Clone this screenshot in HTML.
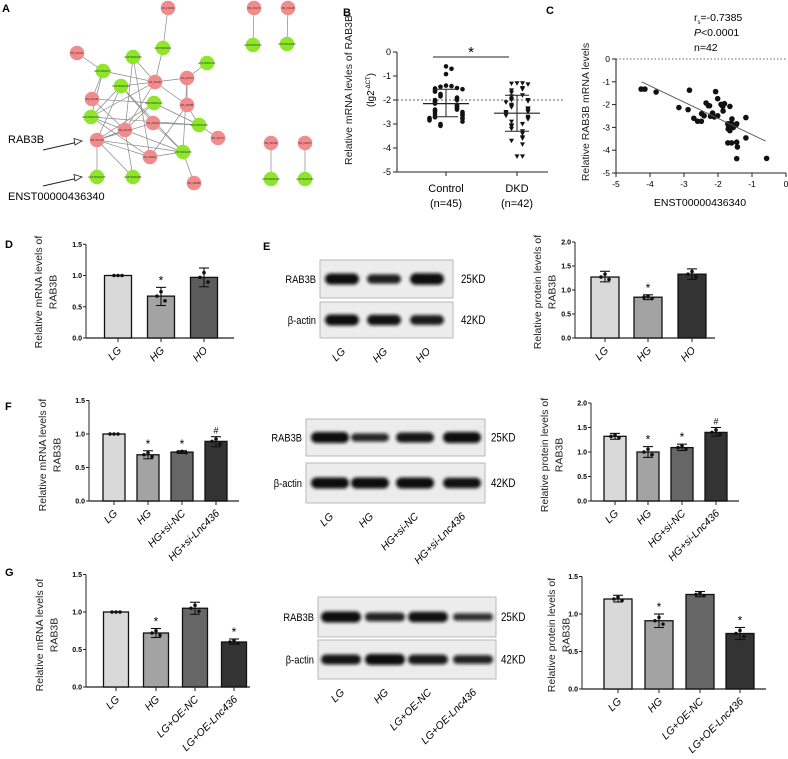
<!DOCTYPE html>
<html><head><meta charset="utf-8"><style>
html,body{margin:0;padding:0;background:#fff;}
svg{display:block;font-family:"Liberation Sans",Arial,sans-serif;}
</style></head><body>
<svg id="fig" width="788" height="759" viewBox="0 0 788 759" xmlns="http://www.w3.org/2000/svg">
<defs><filter id="blur" x="-20%" y="-50%" width="140%" height="200%"><feGaussianBlur stdDeviation="1.6"/></filter></defs>
<rect width="788" height="759" fill="#fff"/>
</svg>
<script>
// ---------- DATA ----------
const netNodes = [[168,8,'p'],[163,48,'g'],[254,8,'p'],[253,45,'g'],[288,8,'p'],[287,44,'g'],[77,53,'p'],[103,71,'g'],[133,57,'g'],[155,82,'p'],[187,78,'p'],[207,63,'g'],[121,86,'g'],[92,99,'p'],[154,103,'g'],[187,105,'p'],[91,117,'g'],[153,123,'p'],[199,125,'g'],[125,130,'p'],[97,140,'p'],[218,138,'p'],[150,157,'p'],[183,152,'g'],[194,183,'p'],[97,177,'g'],[133,177,'g'],[271,143,'p'],[271,179,'g'],[305,143,'p'],[305,179,'g']];
const netEdges = [[0,1],[2,3],[4,5],[6,7],[10,11],[18,21],[23,24],[20,25],[27,28],[29,30],[1,9],[7,9],[8,9],[9,10],[9,12],[9,19],[9,15],[8,19],[8,22],[7,13],[7,16],[12,16],[12,17],[12,20],[12,23],[13,14],[14,18],[14,19],[16,18],[16,19],[16,22],[15,18],[15,22],[10,15],[10,23],[17,18],[17,23],[19,20],[19,23],[20,17],[20,22],[20,23],[20,26],[19,26],[22,23],[13,19],[14,20],[9,16]];
const bCats = ['Control','DKD'];
const bSub = ['(n=45)','(n=42)'];
const bControl = [-0.6,-0.7,-0.92,-1.4,-1.42,-1.45,-1.5,-1.52,-1.55,-1.6,-1.65,-1.75,-1.8,-1.85,-1.9,-1.95,-2.0,-2.0,-2.05,-2.1,-2.15,-2.2,-2.25,-2.3,-2.35,-2.4,-2.4,-2.45,-2.5,-2.5,-2.55,-2.6,-2.6,-2.65,-2.7,-2.72,-2.75,-2.75,-2.78,-2.8,-2.85,-2.9,-3.0,-3.05,-3.08];
const bDKD = [-1.3,-1.3,-1.32,-1.35,-1.5,-1.55,-1.6,-1.7,-1.8,-1.85,-1.95,-2.0,-2.0,-2.05,-2.1,-2.2,-2.25,-2.3,-2.35,-2.4,-2.45,-2.5,-2.5,-2.55,-2.6,-2.65,-2.7,-2.75,-2.8,-2.9,-3.0,-3.05,-3.1,-3.2,-3.3,-3.4,-3.55,-3.6,-3.7,-3.85,-4.35,-4.35];
const bMean = [-2.15,-2.55];
const bSdHi = [-1.55,-1.8];
const bSdLo = [-2.7,-3.3];
const cX = [-4.26,-4.15,-3.82,-3.15,-2.84,-2.88,-2.71,-2.48,-2.49,-2.41,-2.35,-2.28,-2.22,-2.16,-2.11,-2.07,-2.01,-2.01,-1.91,-1.86,-1.85,-1.81,-1.65,-1.61,-1.71,-1.70,-1.69,-1.65,-1.55,-1.47,-1.45,-1.45,-1.71,-1.60,-1.43,-1.45,-1.18,-1.18,-0.57,-1.59,-2.60,-2.25];
const cY = [-1.32,-1.32,-1.45,-2.13,-1.37,-2.22,-2.60,-2.40,-2.73,-2.49,-1.93,-2.05,-2.51,-2.37,-2.54,-1.43,-1.74,-2.49,-1.99,-2.08,-2.28,-1.96,-2.08,-2.81,-2.84,-3.07,-2.92,-3.14,-3.00,-2.89,-2.84,-3.65,-3.68,-3.68,-3.86,-4.37,-2.57,-3.46,-4.36,-2.63,-2.73,-2.05];
const cFit = [[-4.25,-1.0],[-0.6,-3.6]];
const catsDE = ['LG','HG','HO'];
const catsF = ['LG','HG','HG+si-NC','HG+si-Lnc436'];
const catsG = ['LG','HG','LG+OE-NC','LG+OE-Lnc436'];
const dVals=[1.0,0.67,0.97], dLo=[1.0,0.52,0.82], dHi=[1.0,0.81,1.12], dMarks=['','*',''];
const eVals=[1.27,0.85,1.33], eLo=[1.17,0.80,1.22], eHi=[1.39,0.90,1.44], eMarks=['','*',''];
const fVals=[1.0,0.69,0.73,0.89], fLo=[1.0,0.63,0.71,0.81], fHi=[1.0,0.75,0.75,0.96], fMarks=['','*','*','#'];
const fpVals=[1.32,1.0,1.09,1.40], fpLo=[1.26,0.89,1.03,1.32], fpHi=[1.38,1.11,1.16,1.50], fpMarks=['','*','*','#'];
const gVals=[1.0,0.72,1.05,0.60], gLo=[1.0,0.66,0.97,0.57], gHi=[1.0,0.78,1.13,0.64], gMarks=['','*','','*'];
const gpVals=[1.20,0.91,1.26,0.74], gpLo=[1.16,0.82,1.23,0.66], gpHi=[1.25,1.00,1.30,0.82], gpMarks=['','*','','*'];
const eBandRab=[1.0,0.8,1.05], eBandAct=[1,0.95,0.85];
const fBandRab=[1,0.7,0.9,1.0], fBandAct=[1,1,1,0.95];
const gBandRab=[1,0.75,0.95,0.6], gBandAct=[0.9,1,0.85,0.75];

// ---------- HELPERS ----------
const svg=document.getElementById('fig');
const NS='http://www.w3.org/2000/svg';
function mk(tag,attrs,parent,txt){const e=document.createElementNS(NS,tag);for(const k in attrs)e.setAttribute(k,attrs[k]);if(txt!==undefined)e.textContent=txt;(parent||svg).appendChild(e);return e;}
function grp(name){const g=mk('g',{});return g;}
function label(t,x,y,g){const e=mk('text',{x:x,y:y,'font-size':11,'font-weight':'bold'},g,t);}
function vtext(lines,x,cy,g,size){lines.forEach((l,i)=>{const xx=x+i*(size+4);const e=mk('text',{x:xx,y:cy,'font-size':size,'text-anchor':'middle',transform:`rotate(-90 ${xx} ${cy})`,fill:'#222'},g,l);});}

// ---------- PANEL A ----------
(function(){
const g=grp('network-panel-a');
label('A',2,12,g);
netEdges.forEach(([a,b])=>{const l=mk('line',{x1:netNodes[a][0],y1:netNodes[a][1],x2:netNodes[b][0],y2:netNodes[b][1],stroke:'#888','stroke-width':0.7},g);});
netNodes.forEach((n,i)=>{const c=mk('circle',{cx:n[0],cy:n[1],r:7.3,fill:n[2]==='p'?'#f28b8b':'#8ee62a'},g);
const t=mk('text',{x:n[0],y:n[1]+1,'font-size':2.4,'text-anchor':'middle',fill:'#333'},g,n[2]==='p'?'NM_00'+(1000+i*37):'ENST0000'+(4000+i*11));});
const t1=mk('text',{x:8,y:143,'font-size':11},g,'RAB3B');
const t2=mk('text',{x:8,y:200,'font-size':11},g,'ENST00000436340');
[[43,150,82,141],[43,186,82,177]].forEach(a=>{const l=mk('line',{x1:a[0],y1:a[1],x2:a[2]-6,y2:a[3]+1.5,stroke:'#222','stroke-width':0.9},g);
const p=mk('polygon',{points:`${a[2]},${a[3]} ${a[2]-8},${a[3]-2.5} ${a[2]-7},${a[3]+4}`,fill:'#fff',stroke:'#222','stroke-width':0.8},g);});
})();

// ---------- PANEL B ----------
(function(){
const g=grp('scatter-panel-b');
label('B',343,16,g);
const ax=397, y0=52, u=24;
const Y=v=>y0-v*u;
const xs=[446,517];
mk('line',{x1:ax,y1:Y(0),x2:ax,y2:Y(-5),stroke:'#222','stroke-width':1},g);
mk('line',{x1:ax,y1:Y(-5),x2:548,y2:Y(-5),stroke:'#222','stroke-width':1},g);
for(let v=0;v>=-5;v--){mk('line',{x1:ax-4,y1:Y(v),x2:ax,y2:Y(v),stroke:'#222'},g);const t=mk('text',{x:ax-6,y:Y(v)+3,'font-size':9,'text-anchor':'end'},g,String(v));}
mk('line',{x1:ax,y1:Y(-2),x2:565,y2:Y(-2),stroke:'#333','stroke-dasharray':'2,2','stroke-width':0.8},g);
bCats.forEach((c,i)=>{mk('line',{x1:xs[i],y1:Y(-5),x2:xs[i],y2:Y(-5)+4,stroke:'#222'},g);
const t=mk('text',{x:xs[i],y:192,'font-size':11,'text-anchor':'middle'},g,c);
const t2=mk('text',{x:xs[i],y:207,'font-size':11,'text-anchor':'middle'},g,bSub[i]);});
[bControl,bDKD].forEach((arr,gi)=>{const placed=[];arr.forEach(v=>{let k=placed.filter(p=>Math.abs(p-v)<0.16).length;placed.push(v);const off=(k%2?1:-1)*Math.ceil(k/2)*5.5;const cx=xs[gi]+off,cy=Y(v);
let m; if(gi===0){m=mk('circle',{cx:cx,cy:cy,r:2.3,fill:'#111'},g);}else{m=mk('polygon',{points:`${cx-2.5},${cy-2} ${cx+2.5},${cy-2} ${cx},${cy+2.5}`,fill:'#111'},g);}});
mk('line',{x1:xs[gi]-23,y1:Y(bMean[gi]),x2:xs[gi]+23,y2:Y(bMean[gi]),stroke:'#222','stroke-width':1.2},g);
mk('line',{x1:xs[gi],y1:Y(bSdHi[gi]),x2:xs[gi],y2:Y(bSdLo[gi]),stroke:'#222','stroke-width':1},g);
[bSdHi[gi],bSdLo[gi]].forEach(v=>mk('line',{x1:xs[gi]-12,y1:Y(v),x2:xs[gi]+12,y2:Y(v),stroke:'#222','stroke-width':1},g));});
mk('line',{x1:433,y1:57,x2:509,y2:57,stroke:'#222','stroke-width':1},g);
mk('text',{x:471,y:57,'font-size':15,'text-anchor':'middle'},g,'*');
vtext(['Relative mRNA  levles of RAB3B'],352,90,g,10.5);
const t=mk('text',{x:374,y:90,'font-size':10,'text-anchor':'middle',transform:'rotate(-90 374 90)'},g);t.innerHTML='(lg2<tspan font-size="6" dy="-4">-ΔCT</tspan><tspan dy="4">)</tspan>';
})();

// ---------- PANEL C ----------
(function(){
const g=grp('correlation-panel-c');
label('C',546,14,g);
const ax=616,y0=59,uy=22.8,x0=786,ux=34;
const X=v=>x0+v*ux, Y=v=>y0-v*uy;
mk('line',{x1:ax,y1:Y(0),x2:ax,y2:Y(-5),stroke:'#222'},g);
mk('line',{x1:ax,y1:Y(-5),x2:X(0),y2:Y(-5),stroke:'#222'},g);
mk('line',{x1:ax,y1:Y(0),x2:X(0),y2:Y(0),stroke:'#333','stroke-dasharray':'1.5,2','stroke-width':0.8},g);
for(let v=0;v>=-5;v--){mk('line',{x1:ax-4,y1:Y(v),x2:ax,y2:Y(v),stroke:'#222'},g);const t=mk('text',{x:ax-6,y:Y(v)+3,'font-size':8.5,'text-anchor':'end'},g,String(v));
mk('line',{x1:X(v),y1:Y(-5),x2:X(v),y2:Y(-5)+4,stroke:'#222'},g);const t2=mk('text',{x:X(v),y:Y(-5)+14,'font-size':8.5,'text-anchor':'middle'},g,String(v));}
cX.forEach((v,i)=>{const c=mk('circle',{cx:X(v),cy:Y(cY[i]),r:2.8,fill:'#111'},g);});
const l=mk('line',{x1:X(cFit[0][0]),y1:Y(cFit[0][1]),x2:X(cFit[1][0]),y2:Y(cFit[1][1]),stroke:'#555','stroke-width':0.9},g);
const s=mk('text',{x:694,y:21,'font-size':10.5},g);s.innerHTML='r<tspan font-size="6" dy="3">s</tspan><tspan dy="-3">=-0.7385</tspan>';
const p=mk('text',{x:694,y:36,'font-size':10.5},g);p.innerHTML='<tspan font-style="italic">P</tspan>&lt;0.0001';
const n=mk('text',{x:694,y:51,'font-size':10.5},g,'n=42');
vtext(['Relative RAB3B mRNA levels'],589,112,g,10.5);
const xt=mk('text',{x:700,y:206,'font-size':10.5,'text-anchor':'middle'},g,'ENST00000436340');
})();

// ---------- BAR CHART HELPER ----------
function barChart(name,o){
const g=grp(name);
const Y=v=>o.y0-v*o.u;
const fills=o.cats.length===3?['#d9d9d9','#a3a3a3',o.third||'#5c5c5c']:['#d9d9d9','#a3a3a3','#666','#333'];
mk('line',{x1:o.ax,y1:Y(0),x2:o.ax,y2:Y(o.ymax),stroke:'#222','stroke-width':1},g);
mk('line',{x1:o.ax,y1:Y(0),x2:o.xend,y2:Y(0),stroke:'#222','stroke-width':1.2},g);
for(let v=0;v<=o.ymax+1e-9;v+=0.5){mk('line',{x1:o.ax-3,y1:Y(v),x2:o.ax,y2:Y(v),stroke:'#222'},g);const t=mk('text',{x:o.ax-4,y:Y(v)+2.5,'font-size':7,'text-anchor':'end','font-weight':'bold'},g,v.toFixed(1));}
o.cats.forEach((c,i)=>{const cx=o.xs[i];
const r=mk('rect',{x:cx-o.w/2,y:Y(o.vals[i]),width:o.w,height:Y(0)-Y(o.vals[i]),fill:fills[i],stroke:'#111','stroke-width':1.3},g);
if(o.hi[i]>o.lo[i]){mk('line',{x1:cx,y1:Y(o.lo[i]),x2:cx,y2:Y(o.hi[i]),stroke:'#111','stroke-width':1.1},g);[o.lo[i],o.hi[i]].forEach(v=>mk('line',{x1:cx-5,y1:Y(v),x2:cx+5,y2:Y(v),stroke:'#111','stroke-width':1.1},g));}
const dv=[o.vals[i],(o.vals[i]+o.hi[i])/2,(o.vals[i]+o.lo[i])/2];
[-4,0,4].forEach((dx,j)=>mk('circle',{cx:cx+dx,cy:Y(dv[j]),r:1.8,fill:'#111'},g));
if(o.marks[i]){const t=mk('text',{x:cx,y:Y(o.hi[i])-3,'font-size':o.marks[i]==='*'?12:9,'text-anchor':'middle'},g,o.marks[i]);}
mk('line',{x1:cx,y1:Y(0),x2:cx,y2:Y(0)+4,stroke:'#222'},g);
const lx=cx+4,ly=Y(0)+13;const t=mk('text',{x:lx,y:ly,'font-size':10.5,'font-style':'italic','text-anchor':'end',transform:`rotate(-45 ${lx} ${ly})`},g,c);});
vtext(o.ylab,o.ylx,o.ylcy,g,10.5);
}
function blot(name,o){
const g=grp(name);
[[o.y1,o.y2,'RAB3B',o.kd1,o.rab],[o.y3,o.y4,'β-actin',o.kd2,o.act]].forEach((b,k)=>{
const r=mk('rect',{x:o.x1,y:b[0],width:o.x2-o.x1,height:b[1]-b[0],fill:'#ececec',stroke:'#aaa','stroke-width':0.8},g);
const cy=(b[0]+b[1])/2;
o.lanes.forEach((lx,i)=>{const bw=o.bw,bh=9*b[4][i]+2;const e=mk('rect',{x:lx-bw/2,y:cy-bh/2,width:bw,height:bh,rx:bh/2,fill:'#111',filter:'url(#blur)',opacity:0.6+0.4*b[4][i]},g);});
const t=mk('text',{x:o.x1-4,y:cy+4,'font-size':11,'text-anchor':'end',transform:`scale(0.85,1) translate(${(o.x1-4)*(1/0.85-1)},0)`},g,b[2]);
const t2=mk('text',{x:o.kdx,y:cy+4,'font-size':11.5,transform:`scale(0.85,1) translate(${o.kdx*(1/0.85-1)},0)`},g,b[3]);});
o.cats.forEach((c,i)=>{const lx=o.lanes[i]+4,ly=o.y4+14;const t=mk('text',{x:lx,y:ly,'font-size':10.5,'font-style':'italic','text-anchor':'end',transform:`rotate(-45 ${lx} ${ly})`},g,c);});
}

// ---------- PANELS D-G ----------
label('D',5,248);label('E',263,250);label('F',5,410);label('G',5,576);
barChart('bar-chart-d-mrna',{cats:catsDE,vals:dVals,lo:dLo,hi:dHi,marks:dMarks,ax:86,y0:338,u:62.5,ymax:1.5,xend:234,xs:[118,161,204],w:27,ylab:['Relative mRNA levels of','RAB3B'],ylx:42,ylcy:292});
blot('western-blot-e',{cats:catsDE,lanes:[342,384,427],bw:34,x1:320,x2:453,y1:260,y2:298,y3:302,y4:338,kdx:461,kd1:'25KD',kd2:'42KD',rab:eBandRab,act:eBandAct});
barChart('bar-chart-e-protein',{cats:catsDE,vals:eVals,lo:eLo,hi:eHi,marks:eMarks,ax:575,y0:338,u:48,ymax:2.0,xend:715,xs:[605,648,692],w:28,third:'#333',ylab:['Relative protein levels of','RAB3B'],ylx:541,ylcy:292});
barChart('bar-chart-f-mrna',{cats:catsF,vals:fVals,lo:fLo,hi:fHi,marks:fMarks,ax:89,y0:501,u:67,ymax:1.5,xend:239,xs:[114,148,182,216],w:22,ylab:['Relative mRNA levels of','RAB3B'],ylx:46,ylcy:455});
blot('western-blot-f',{cats:catsF,lanes:[330,370,415,462],bw:38,x1:306,x2:485,y1:419,y2:456,y3:463,y4:503,kdx:491,kd1:'25KD',kd2:'42KD',rab:fBandRab,act:fBandAct});
barChart('bar-chart-f-protein',{cats:catsF,vals:fpVals,lo:fpLo,hi:fpHi,marks:fpMarks,ax:591,y0:501,u:49,ymax:2.0,xend:739,xs:[615,648,682,716],w:22,ylab:['Relative protein levels of','RAB3B'],ylx:548,ylcy:455});
barChart('bar-chart-g-mrna',{cats:catsG,vals:gVals,lo:gLo,hi:gHi,marks:gMarks,ax:86,y0:687,u:75,ymax:1.5,xend:250,xs:[116,156,195,234],w:25,ylab:['Relative mRNA levels of','RAB3B'],ylx:43,ylcy:635});
blot('western-blot-g',{cats:catsG,lanes:[341,385,428,473],bw:40,x1:318,x2:496,y1:597,y2:637,y3:640,y4:679,kdx:501,kd1:'25KD',kd2:'42KD',rab:gBandRab,act:gBandAct});
barChart('bar-chart-g-protein',{cats:catsG,vals:gpVals,lo:gpLo,hi:gpHi,marks:gpMarks,ax:582,y0:689,u:75,ymax:1.5,xend:766,xs:[618,659,700,740],w:28,ylab:['Relative protein levels of','RAB3B'],ylx:555,ylcy:635});
</script>
</body></html>
